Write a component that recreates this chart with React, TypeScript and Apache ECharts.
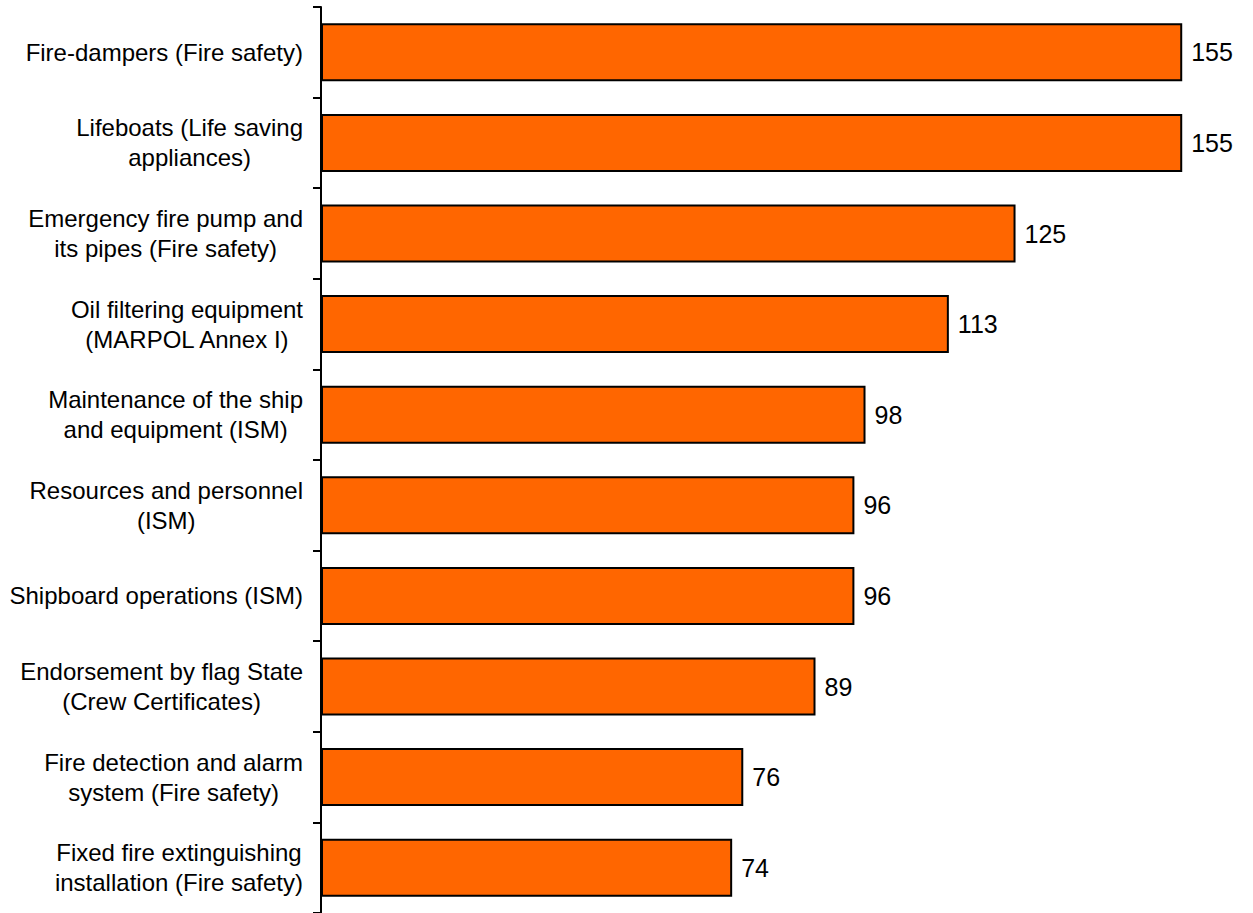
import React, { useEffect, useRef } from "react";
import * as echarts from "echarts";

const categories: string[] = [
  "Fire-dampers (Fire safety)",
  "Lifeboats (Life saving\nappliances)",
  "Emergency fire pump and\nits pipes (Fire safety)",
  "Oil filtering equipment\n(MARPOL Annex I)",
  "Maintenance of the ship\nand equipment (ISM)",
  "Resources and personnel\n(ISM)",
  "Shipboard operations (ISM)",
  "Endorsement by flag State\n(Crew Certificates)",
  "Fire detection and alarm\nsystem (Fire safety)",
  "Fixed fire extinguishing\ninstallation (Fire safety)",
];

const values: number[] = [155, 155, 125, 113, 98, 96, 96, 89, 76, 74];

const FONT = "Liberation Sans, Arial, sans-serif";

export default function App() {
  const ref = useRef<HTMLDivElement>(null);
  useEffect(() => {
    if (!ref.current) return;
    const chart = echarts.init(ref.current, undefined, { renderer: "svg" });
    chart.setOption({
      animation: false,
      backgroundColor: "#ffffff",
      grid: { left: 321, right: 43, top: 7, bottom: 0, containLabel: false },
      xAxis: {
        type: "value",
        min: 0,
        max: 160,
        show: false,
      },
      yAxis: {
        type: "category",
        inverse: true,
        data: categories,
        axisLine: { show: true, lineStyle: { color: "#000000", width: 2 } },
        axisTick: {
          show: true,
          length: 8,
          lineStyle: { color: "#000000", width: 2 },
        },
        splitLine: { show: false },
        axisLabel: {
          margin: 18,
          color: "#000000",
          fontFamily: FONT,
          fontSize: 24,
          lineHeight: 30,
          formatter: (v: string) =>
            v
              .split("\n")
              .map((l) => `{c|${l}}`)
              .join("\n"),
          rich: {
            c: {
              align: "center",
              color: "#000000",
              fontFamily: FONT,
              fontSize: 24,
              lineHeight: 30,
            },
          },
        },
      },
      series: [
        {
          type: "bar",
          data: values,
          barCategoryGap: "36%",
          itemStyle: {
            color: "#FF6600",
            borderColor: "#000000",
            borderWidth: 2,
          },
          label: {
            show: true,
            position: "right",
            distance: 9,
            color: "#000000",
            fontFamily: FONT,
            fontSize: 25,
          },
        },
      ],
    });
    return () => chart.dispose();
  }, []);
  return (
    <div
      ref={ref}
      style={{ position: "fixed", left: 0, top: 0, width: 1253, height: 913 }}
    />
  );
}
